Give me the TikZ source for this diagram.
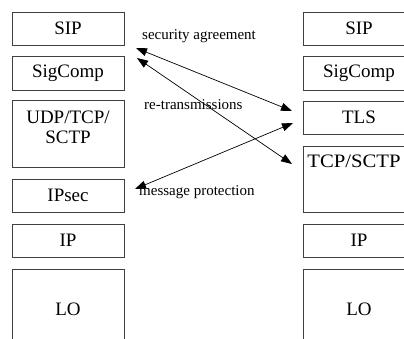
\documentclass[tikz,border=0pt]{standalone}
\usepackage{fontspec}
\setmainfont{Liberation Serif}
\usetikzlibrary{arrows.meta}
\tikzset{
  box/.style={draw=black!75, line width=0.9pt, minimum width=112pt, inner sep=0pt, align=center,
              font=\fontsize{19}{20}\selectfont},
  lbl/.style={font=\fontsize{15}{17}\selectfont, inner sep=0pt, anchor=base west},
  link/.style={line width=0.7pt, {Triangle[length=11pt,width=8pt]}-{Triangle[length=11pt,width=8pt]}}
}
\begin{document}
\begin{tikzpicture}[x=1pt,y=-1pt]
\useasboundingbox (0,0) rectangle (404,338);
\clip (0,0) rectangle (404,338);
% left stack
\node[box, minimum height=33pt] (lsip) at (68,28.5) {SIP};
\node[box, minimum height=34pt] (lsig) at (68,73) {SigComp};
\node[box, minimum height=67pt, text depth=12pt] (ludp) at (68,133.5) {UDP/TCP/\\SCTP};
\node[box, minimum height=33pt] (lipsec) at (68,195.5) {IPsec};
\node[box, minimum height=33pt] (lip) at (68,240.5) {IP};
\node[box, minimum height=80pt] (llo) at (68,309) {LO};
% right stack
\node[box, minimum height=33pt] (rsip) at (359,28.5) {SIP};
\node[box, minimum height=34pt] (rsig) at (359,73) {SigComp};
\node[box, minimum height=33pt] (rtls) at (359,117.5) {TLS};
\node[box, minimum height=66pt, text depth=36pt] (rtcp) at (359,179) {\scalebox{1.09}[1]{TCP/SCTP}\hspace{10pt}};
\node[box, minimum height=33pt] (rip) at (359,240.5) {IP};
\node[box, minimum height=80pt] (rlo) at (359,309) {LO};
% arrow end points
\coordinate (a1s) at (136,48);
\coordinate (a1e) at (292,111);
\coordinate (a2s) at (137,58);
\coordinate (a2e) at (292,164);
\coordinate (a3s) at (135,189);
\coordinate (a3e) at (293,123);
\draw[link] (a1s) -- (a1e);
\draw[link] (a2s) -- (a2e);
\draw[link] (a3s) -- (a3e);
% labels
\node[lbl] (t1) at (142,39) {security agreement};
\node[lbl] (t2) at (144,109) {re-transmissions};
\node[lbl] (t3) at (139,195) {message protection};
\end{tikzpicture}
\end{document}
